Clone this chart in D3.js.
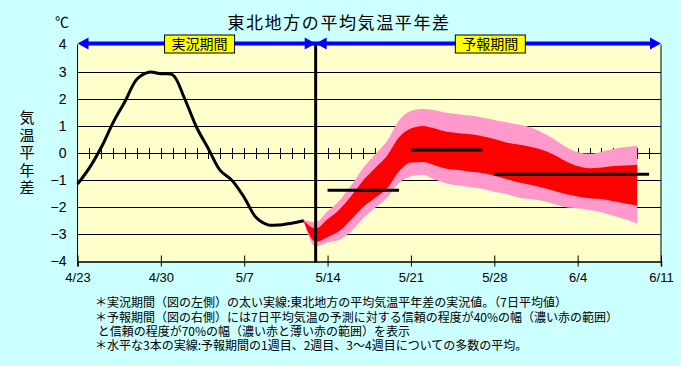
<!DOCTYPE html>
<html><head><meta charset="utf-8">
<script src="https://cdn.jsdelivr.net/npm/d3@7"></script>
<style>
html,body{margin:0;padding:0;background:#CCFFFF;}
svg{display:block;font-family:"Noto Sans CJK JP","Noto Sans",sans-serif;}
</style></head>
<body><svg id="c" width="681" height="366"></svg>
<script>
// ---- data ----
const xTickLabels = ["4/23","4/30","5/7","5/14","5/21","5/28","6/4","6/11"]; // every 7 days from 4/23
const yTicks = [-4,-3,-2,-1,0,1,2,3,4];
// observed 7-day mean anomaly, daily from 4/23 (day 0) to 5/12 (day 19)
const obsValues = [-1.15,-0.55,0.21,1.13,1.91,2.73,2.98,2.92,2.88,2.0,0.95,0.15,-0.65,-1.02,-1.64,-2.38,-2.65,-2.65,-2.59,-2.50];
const obsStartDay = 0;
// forecast bands, daily from 5/12 (day 19) to 6/9 (day 47)
const bandStartDay = 19;
const pinkTop = [-2.47,-2.55,-2.15,-1.75,-1.18,-0.55,-0.05,0.45,1.20,1.55,1.62,1.58,1.48,1.43,1.38,1.31,1.22,1.13,1.05,0.95,0.76,0.52,0.23,0.03,-0.03,0.05,0.15,0.22,0.27];
const redTop  = [-2.50,-2.78,-2.44,-2.08,-1.58,-1.00,-0.55,-0.10,0.58,0.90,1.00,0.90,0.78,0.73,0.69,0.62,0.52,0.39,0.31,0.23,0.12,-0.06,-0.30,-0.48,-0.56,-0.53,-0.48,-0.46,-0.43];
const redBot  = [-2.52,-3.28,-3.10,-2.87,-2.45,-1.98,-1.65,-1.30,-0.68,-0.35,-0.33,-0.45,-0.58,-0.63,-0.69,-0.74,-0.84,-0.96,-1.08,-1.17,-1.27,-1.39,-1.51,-1.60,-1.67,-1.70,-1.78,-1.86,-1.94];
const pinkBot = [-2.55,-3.45,-3.30,-3.20,-2.88,-2.40,-2.02,-1.65,-1.10,-0.86,-0.80,-0.98,-1.12,-1.20,-1.26,-1.32,-1.43,-1.51,-1.64,-1.70,-1.76,-1.88,-2.00,-2.04,-2.10,-2.18,-2.31,-2.44,-2.60];
// ensemble mean lines: week1, week2, weeks 3-4
const meanStart = [21, 28, 35];
const meanEnd   = [27, 34, 48];
const meanValue = [-1.37, 0.11, -0.78];
const splitDay = 20; // 5/13 boundary between observation and forecast
const periodLabels = ["実況期間","予報期間"];
const title = "東北地方の平均気温平年差";
const yTitle = "気温平年差";
const notes = [
 "＊実況期間（図の左側）の太い実線:東北地方の平均気温平年差の実況値。（7日平均値）",
 "＊予報期間（図の右側）には7日平均気温の予測に対する信頼の程度が40%の幅（濃い赤の範囲）",
 " と信頼の程度が70%の幅（濃い赤と薄い赤の範囲）を表示",
 "＊水平な3本の実線:予報期間の1週目、2週目、3～4週目についての多数の平均。"
];

// ---- chart ----
const svg = d3.select("#c");
const x = d3.scaleLinear().domain([0,49]).range([77.5,661]);
const y = d3.scaleLinear().domain([-4,4]).range([261.5,44.5]);

svg.append("rect").attr("x",x(0)).attr("y",y(4)).attr("width",x(49)-x(0)).attr("height",y(-4)-y(4)).attr("fill","#FFFFCC");

// gridlines
svg.append("g").selectAll("line").data(yTicks.filter(v=>v>-4&&v<4)).join("line")
  .attr("x1",x(0)).attr("x2",x(49)).attr("y1",d=>Math.round(y(d))+0.5).attr("y2",d=>Math.round(y(d))+0.5)
  .attr("stroke","#000").attr("stroke-width",1);
// daily ticks on zero line
svg.append("g").selectAll("line").data(d3.range(1,49)).join("line")
  .attr("x1",d=>Math.round(x(d))+0.5).attr("x2",d=>Math.round(x(d))+0.5)
  .attr("y1",Math.round(y(0))-5).attr("y2",Math.round(y(0))+6).attr("stroke","#000");

// bands
const bandIdx = d3.range(pinkTop.length);
const area = (top,bot)=>d3.area().curve(d3.curveMonotoneX)
  .x(i=>x(bandStartDay+i)).y0(i=>y(bot[i])).y1(i=>y(top[i]));
svg.append("path").datum(bandIdx).attr("d",area(pinkTop,pinkBot)).attr("fill","#FF99CC");
svg.append("path").datum(bandIdx).attr("d",area(redTop,redBot)).attr("fill","#FF0000");

// observed line
svg.append("path").datum(obsValues)
  .attr("d",d3.line().curve(d3.curveCatmullRom.alpha(0.5)).x((v,i)=>x(obsStartDay+i)).y(v=>y(v)))
  .attr("fill","none").attr("stroke","#000").attr("stroke-width",3);

// mean lines
svg.append("g").selectAll("line").data(meanValue).join("line")
  .attr("x1",(v,i)=>x(meanStart[i])).attr("x2",(v,i)=>x(meanEnd[i]))
  .attr("y1",v=>y(v)).attr("y2",v=>y(v)).attr("stroke","#000").attr("stroke-width",3);

// axes frame
svg.append("line").attr("x1",x(0)).attr("x2",x(0)).attr("y1",y(4)).attr("y2",y(-4)).attr("stroke","#000");
svg.append("line").attr("x1",x(49)).attr("x2",x(49)).attr("y1",y(4)).attr("y2",y(-4)).attr("stroke","#000");

const xAxis = d3.axisBottom(x).tickValues(d3.range(0,50,7)).tickFormat((d,i)=>xTickLabels[i]).tickSizeOuter(0).tickSize(5).tickPadding(6);
const gx = svg.append("g").attr("transform",`translate(0,${y(-4)})`).call(xAxis);
gx.select(".domain").attr("stroke","#000").attr("stroke-width",1.5);
gx.selectAll(".tick line").attr("y1",-6).attr("y2",5).attr("stroke","#000");
gx.selectAll(".tick text").attr("font-size",13).attr("fill","#000").attr("font-family","'Liberation Sans',Arial,sans-serif");

const yAxis = d3.axisLeft(y).tickValues(yTicks).tickFormat(d=>d<0?"−"+Math.abs(d):d).tickSize(0).tickPadding(11);
const gy = svg.append("g").attr("transform",`translate(${x(0)},0)`).call(yAxis);
gy.select(".domain").remove();
gy.selectAll(".tick text").attr("font-size",14).attr("fill","#000").attr("font-family","'Liberation Sans',Arial,sans-serif");

// split line
svg.append("line").attr("x1",x(splitDay)).attr("x2",x(splitDay)).attr("y1",y(4)).attr("y2",y(-4)+1).attr("stroke","#000").attr("stroke-width",3);

// period arrows
const ay = 43.5;
svg.append("line").attr("x1",x(0)+6).attr("x2",x(49)-6).attr("y1",ay).attr("y2",ay).attr("stroke","#0000FF").attr("stroke-width",4);
function arrow(tip,dir){
  svg.append("path").attr("d",`M${tip},${ay} L${tip-dir*11},${ay-6} L${tip-dir*11},${ay+6} Z`).attr("fill","#0000FF");
}
arrow(x(0),-1); arrow(x(splitDay),1); arrow(x(splitDay),-1); arrow(x(49),1);
[[0,splitDay],[splitDay,49]].forEach((s,i)=>{
  const cx=(x(s[0])+x(s[1]))/2+(i===0?3:2);
  svg.append("rect").attr("x",cx-35).attr("y",35).attr("width",70).attr("height",18).attr("fill","#FFFF00").attr("stroke","#000").attr("stroke-width",1);
  svg.append("text").attr("x",cx).attr("y",49).attr("text-anchor","middle").attr("font-size",14).attr("fill","#000").text(periodLabels[i]);
});

// title etc
svg.append("text").attr("x",339).attr("y",29).attr("text-anchor","middle").attr("font-size",17).attr("letter-spacing",1.6).attr("fill","#000").text(title);
svg.append("text").attr("x",55).attr("y",27).attr("font-size",14).attr("fill","#000").text("℃");
svg.append("text").attr("transform","translate(27,110)").attr("writing-mode","vertical-rl")
  .attr("font-size",15).attr("letter-spacing",2.5).attr("fill","#000").text(yTitle);
const nt = svg.append("text").attr("font-size",12).attr("fill","#000").attr("xml:space","preserve").style("white-space","pre");
nt.selectAll("tspan").data(notes).join("tspan").attr("x",95).attr("y",(d,i)=>[307,322,336,350][i]).text(d=>d);
</script></body></html>
